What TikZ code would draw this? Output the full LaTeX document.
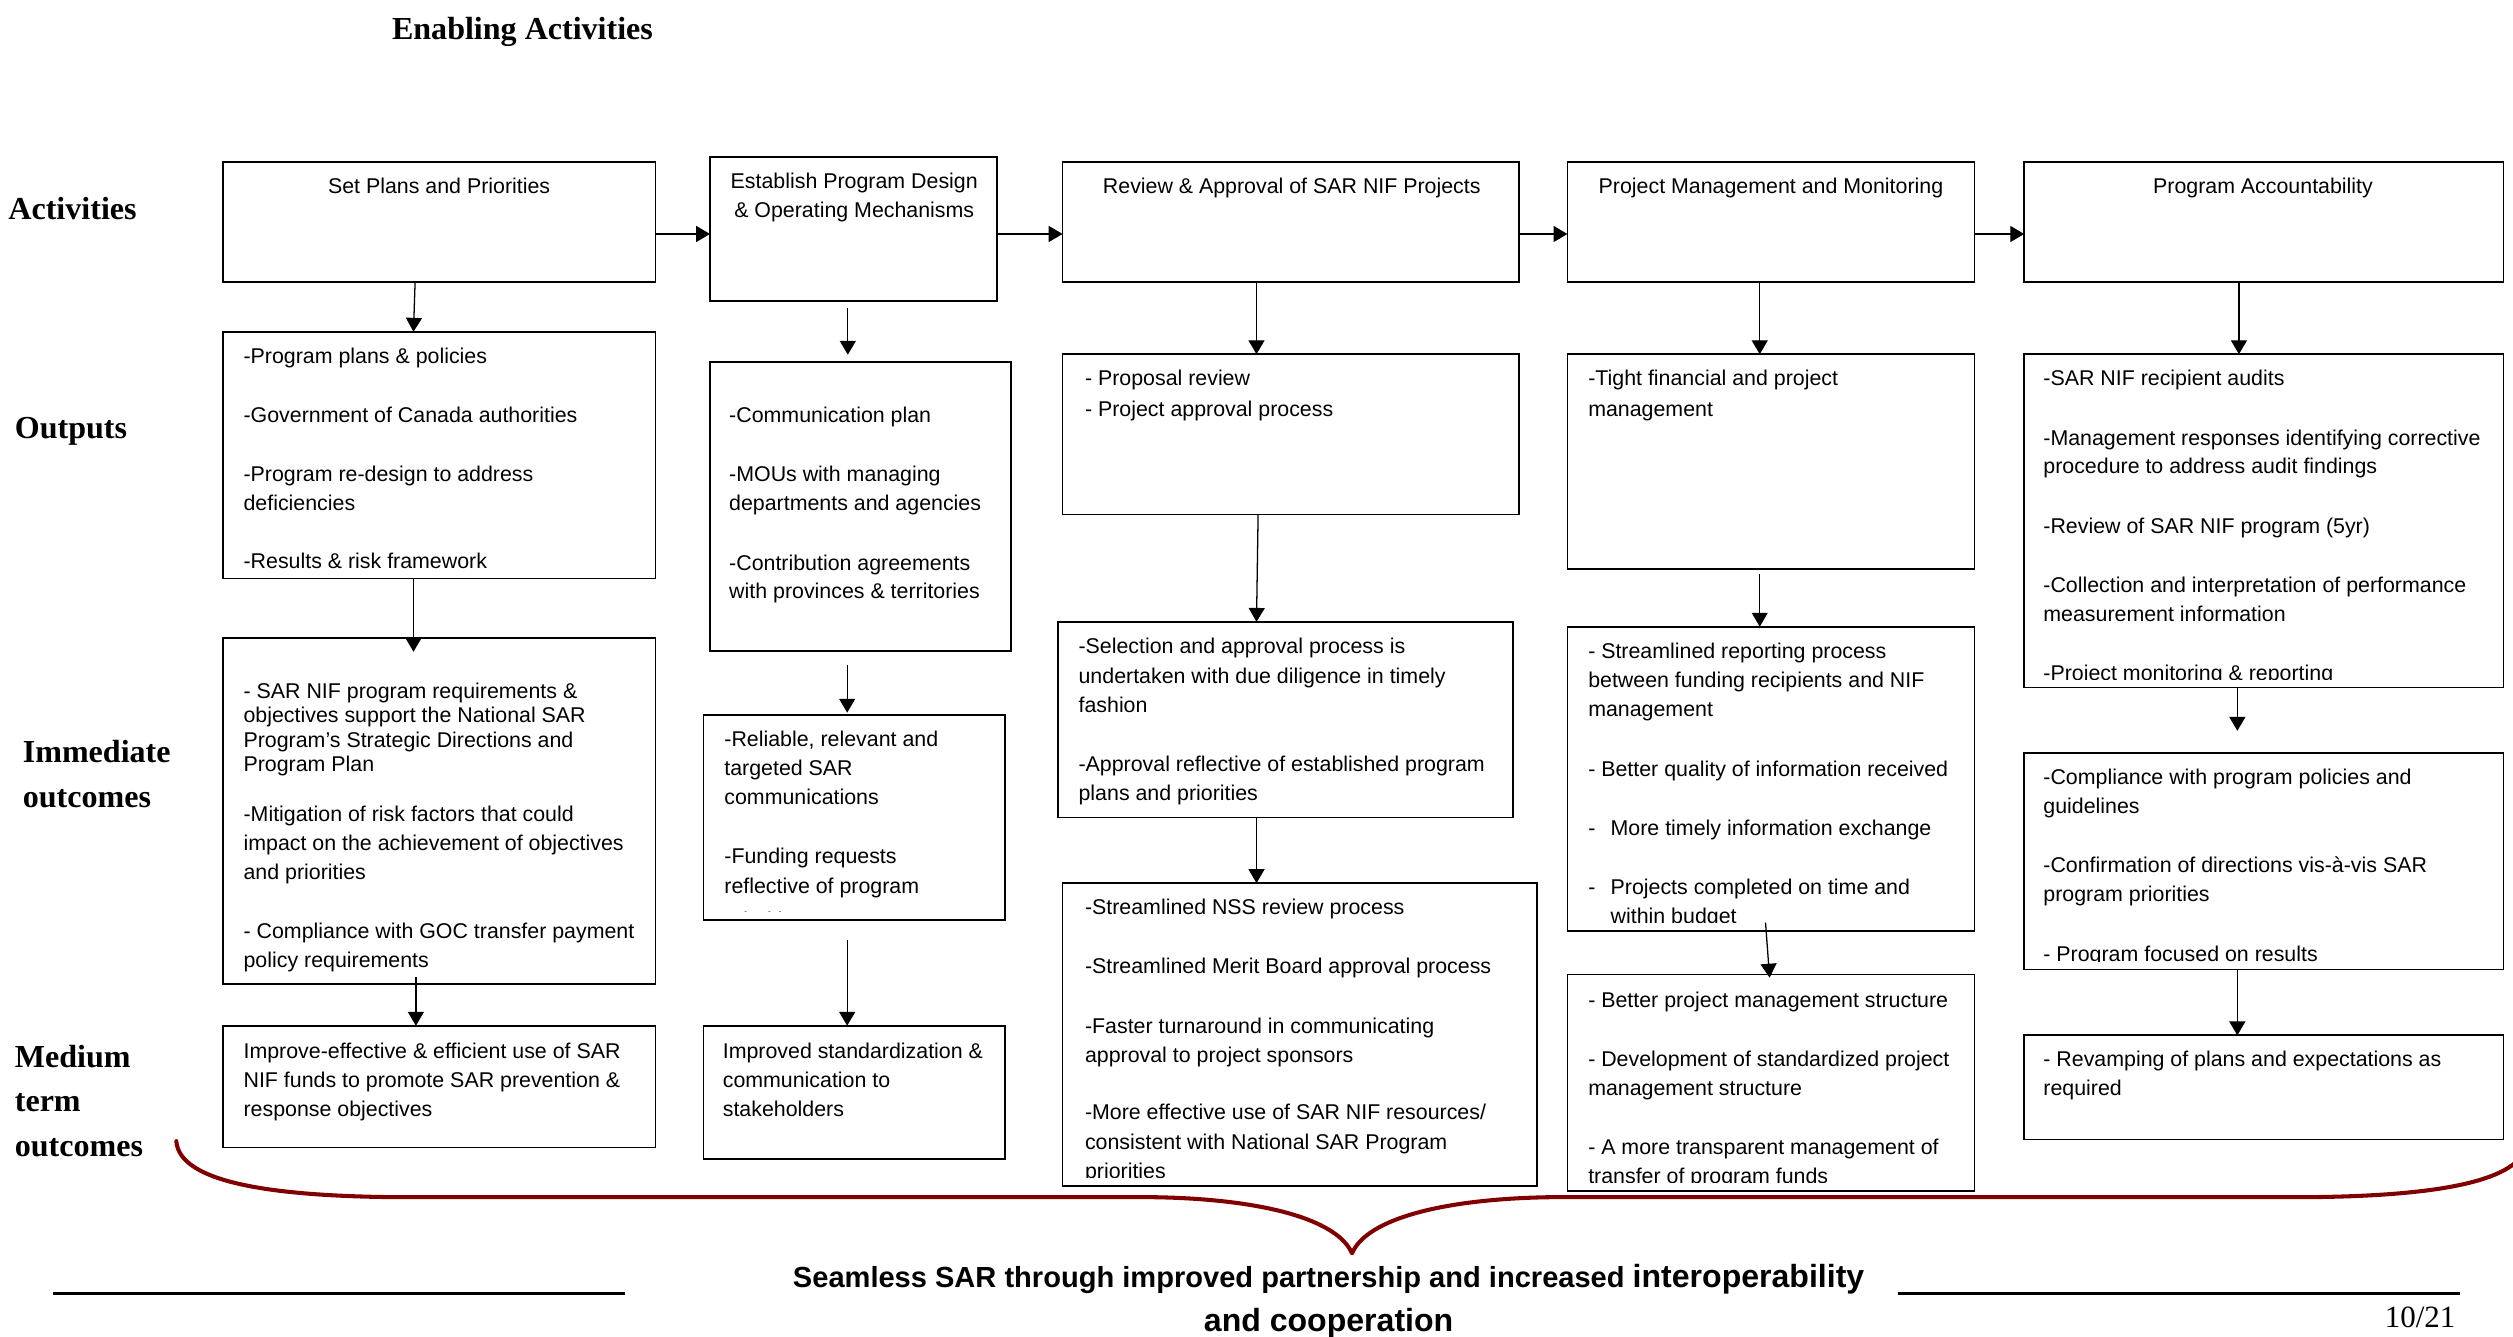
\documentclass[tikz,border=0pt]{standalone}
\usepackage{fontspec}
\setmainfont{Liberation Sans}
\newfontfamily\serifb{Liberation Serif}
\usetikzlibrary{arrows.meta}
\definecolor{bracered}{RGB}{128,0,0}
\tikzset{
  box/.style={draw, line width=0.8pt, inner sep=0pt, outer sep=0pt, anchor=north west},
  txt/.style={inner sep=0pt, outer sep=0pt, align=left, anchor=north west, font=\fontsize{10}{13.5}\selectfont},
  ttl/.style={inner sep=0pt, outer sep=0pt, align=center, anchor=north, font=\fontsize{10}{13.5}\selectfont},
  rowlab/.style={inner sep=0pt, align=left, anchor=west, font=\serifb\bfseries\fontsize{15}{21}\selectfont},
  arr/.style={line width=0.6pt, -{Triangle[length=6.5pt,width=7.5pt]}},
  bracestyle/.style={draw=bracered, line width=1.9pt, line cap=round, line join=round},
}
\newcommand\mkbox[5]{\node[box, minimum width={(#4-#2)*0.75pt}, minimum height={(#5-#3)*0.75pt}] (#1) at (#2,#3) {};}
\newcommand\boxtext[4]{\begin{scope}\clip ([yshift=3.9pt]#1.south west) rectangle (#1.north east); \node[txt] (#1t) at (#2,#3) {#4};\end{scope}}
\begin{document}
\begin{tikzpicture}[x=0.75pt,y=-0.75pt]
\useasboundingbox (0,0) rectangle (1568,834);

% title and row labels
\node[inner sep=0pt, font=\serifb\bfseries\fontsize{15}{18}\selectfont] (title) at (326,20) {Enabling Activities};
\node[rowlab] (lAct) at (5,130) {Activities};
\node[rowlab] (lOut) at (9,269) {Outputs};
\node[rowlab] (lImm) at (14,483) {Immediate\\outcomes};
\node[rowlab] (lMed) at (9,687) {Medium\\term\\outcomes};

% boxes
\mkbox{A1}{139}{101}{409}{176}
\mkbox{A2}{443}{98}{622}{188}
\mkbox{A3}{663}{101}{948}{176}
\mkbox{A4}{978}{101}{1232}{176}
\mkbox{A5}{1263}{101}{1562}{176}

\mkbox{O1}{139}{207}{409}{361}
\mkbox{O2}{443}{226}{631}{406}
\mkbox{O3}{663}{221}{948}{321}
\mkbox{O4}{978}{221}{1232}{355}
\mkbox{O5}{1263}{221}{1562}{429}

\mkbox{I1}{139}{398}{409}{614}
\mkbox{I2}{439}{446}{627}{574}
\mkbox{I3}{660}{388}{944}{510}
\mkbox{I4}{978}{391}{1232}{581}
\mkbox{I5}{1263}{470}{1562}{605}

\mkbox{M1}{139}{640}{409}{716}
\mkbox{M2}{439}{640}{627}{723}
\mkbox{M3}{663}{551}{959}{740}
\mkbox{M4}{978}{608}{1232}{743}
\mkbox{M5}{1263}{646}{1562}{711}

% activity titles
\node[ttl] (A1t) at (274,111) {Set Plans and Priorities};
\node[ttl] (A2t) at (533,108) {Establish Program Design\\\& Operating Mechanisms};
\node[ttl] (A3t) at (806,111) {Review \& Approval of SAR NIF Projects};
\node[ttl] (A4t) at (1105,111) {Project Management and Monitoring};
\node[ttl] (A5t) at (1412,111) {Program Accountability};

% outputs
\boxtext{O1}{152}{217}{-Program plans \& policies\\[14.25pt]-Government of Canada authorities\\[14.25pt]-Program re-design to address\\deficiencies\\[13.5pt]-Results \& risk framework}
\boxtext{O2}{455}{254}{-Communication plan\\[14.25pt]-MOUs with managing\\departments and agencies\\[14.25pt]-Contribution agreements\\with provinces \& territories}
\boxtext{O3}{677}{231}{- Proposal review\\[0.75pt]- Project approval process}
\boxtext{O4}{991}{231}{-Tight financial and project\\[0.75pt]management}
\boxtext{O5}{1275}{231}{-SAR NIF recipient audits\\[14.25pt]-Management responses identifying corrective\\procedure to address audit findings\\[14.25pt]-Review of SAR NIF program (5yr)\\[14.25pt]-Collection and interpretation of performance\\measurement information\\[14.25pt]-Project monitoring \& reporting}

% immediate outcomes
\boxtext{I1}{152}{426}{- SAR NIF program requirements \&\\[-2pt]objectives support the National SAR\\[-2pt]Program’s Strategic Directions and\\[-2pt]Program Plan\\[9.75pt]-Mitigation of risk factors that could\\impact on the achievement of objectives\\and priorities\\[14.25pt]- Compliance with GOC transfer payment\\policy requirements}
\boxtext{I2}{452}{456}{-Reliable, relevant and\\targeted SAR\\communications\\[14.25pt]-Funding requests\\[0.5pt]reflective of program\\[2.6pt]priorities}
\boxtext{I3}{673}{398}{-Selection and approval process is\\[0.75pt]undertaken with due diligence in timely\\fashion\\[14.25pt]-Approval reflective of established program\\plans and priorities}
\boxtext{I4}{991}{401}{- Streamlined reporting process\\between funding recipients and NIF\\[0.5pt]management\\[14.25pt]- Better quality of information received\\[14.25pt]\makebox[10.5pt][l]{-}More timely information exchange\\[14.25pt]\makebox[10.5pt][l]{-}Projects completed on time and\\\hspace*{10.5pt}within budget}
\boxtext{I5}{1275}{480}{-Compliance with program policies and\\guidelines\\[14.25pt]-Confirmation of directions vis-à-vis SAR\\program priorities\\[14.25pt]- Program focused on results}

% medium term outcomes
\boxtext{M1}{152}{651}{Improve-effective \& efficient use of SAR\\NIF funds to promote SAR prevention \&\\response objectives}
\boxtext{M2}{451}{651}{Improved standardization \&\\communication to\\stakeholders}
\boxtext{M3}{677}{561}{-Streamlined NSS review process\\[14.25pt]-Streamlined Merit Board approval process\\[14.25pt]-Faster turnaround in communicating\\approval to project sponsors\\[13.5pt]-More effective use of SAR NIF resources/\\[0.5pt]consistent with National SAR Program\\priorities}
\boxtext{M4}{991}{619}{- Better project management structure\\[14.25pt]- Development of standardized project\\management structure\\[14.25pt]- A more transparent management of\\transfer of program funds}
\boxtext{M5}{1275}{656}{- Revamping of plans and expectations as\\required}

% horizontal arrows
\draw[arr] (A1.east |- 0,146) -- (A2.west |- 0,146);
\draw[arr] (A2.east |- 0,146) -- (A3.west |- 0,146);
\draw[arr] (A3.east |- 0,146) -- (A4.west |- 0,146);
\draw[arr] (A4.east |- 0,146) -- (A5.west |- 0,146);

% vertical arrows
\draw[arr] (259,0 |- A1.south) -- (258,0 |- O1.north);
\draw[arr, shorten <=3pt, shorten >=3.5pt] (529,0 |- A2.south) -- (529,0 |- O2.north);
\draw[arr] (784,0 |- A3.south) -- (784,0 |- O3.north);
\draw[arr] (1098,0 |- A4.south) -- (1098,0 |- O4.north);
\draw[arr] (1397,0 |- A5.south) -- (1397,0 |- O5.north);

\draw[arr, shorten >=-6.5pt] (258,0 |- O1.south) -- (258,0 |- I1.north);
\draw[arr, shorten <=6.5pt, shorten >=1pt] (528.6,0 |- O2.south) -- (528.6,0 |- I2.north);
\draw[arr] (785,0 |- O3.south) -- (784,0 |- I3.north);
\draw[arr, shorten <=2.5pt] (1098,0 |- O4.south) -- (1098,0 |- I4.north);
\draw[arr, shorten >=10.5pt] (1396,0 |- O5.south) -- (1396,0 |- I5.north);

\draw[arr, shorten <=-3.5pt] (259.5,0 |- I1.south) -- (259.5,0 |- M1.north);
\draw[arr, shorten <=9.5pt] (528.6,0 |- I2.south) -- (528.6,0 |- M2.north);
\draw[arr] (784,0 |- I3.south) -- (784,0 |- M3.north);
\draw[arr, shorten <=-4pt, shorten >=-1.5pt] (1102,0 |- I4.south) -- (1104,0 |- M4.north);
\draw[arr] (1396,0 |- I5.south) -- (1396,0 |- M5.north);

% brace
\draw[bracestyle] (110,712) .. controls (112,738) and (170,746.5) .. (250,747) -- (720,747)
  .. controls (785,748) and (834,760) .. (843.6,782)
  .. controls (853,760) and (902,748) .. (967,747) -- (1437,747)
  .. controls (1517,746.5) and (1575,738) .. (1577,712);

% bottom rules and text
\draw[line width=1.1pt] (33,807) -- (390,807);
\draw[line width=1.1pt] (1184,807) -- (1535,807);
\node[inner sep=0pt, anchor=base, font=\bfseries\fontsize{13.6}{16}\selectfont] (bt1) at (829,803.5) {Seamless SAR through improved partnership and increased {\fontsize{15}{18}\selectfont interoperability}};
\node[inner sep=0pt, anchor=base, font=\bfseries\fontsize{15}{18}\selectfont] (bt2) at (829,830.5) {and cooperation};
\node[inner sep=0pt, font=\serifb\fontsize{14.5}{16}\selectfont] (pg) at (1510,822) {10/21};
\end{tikzpicture}
\end{document}
